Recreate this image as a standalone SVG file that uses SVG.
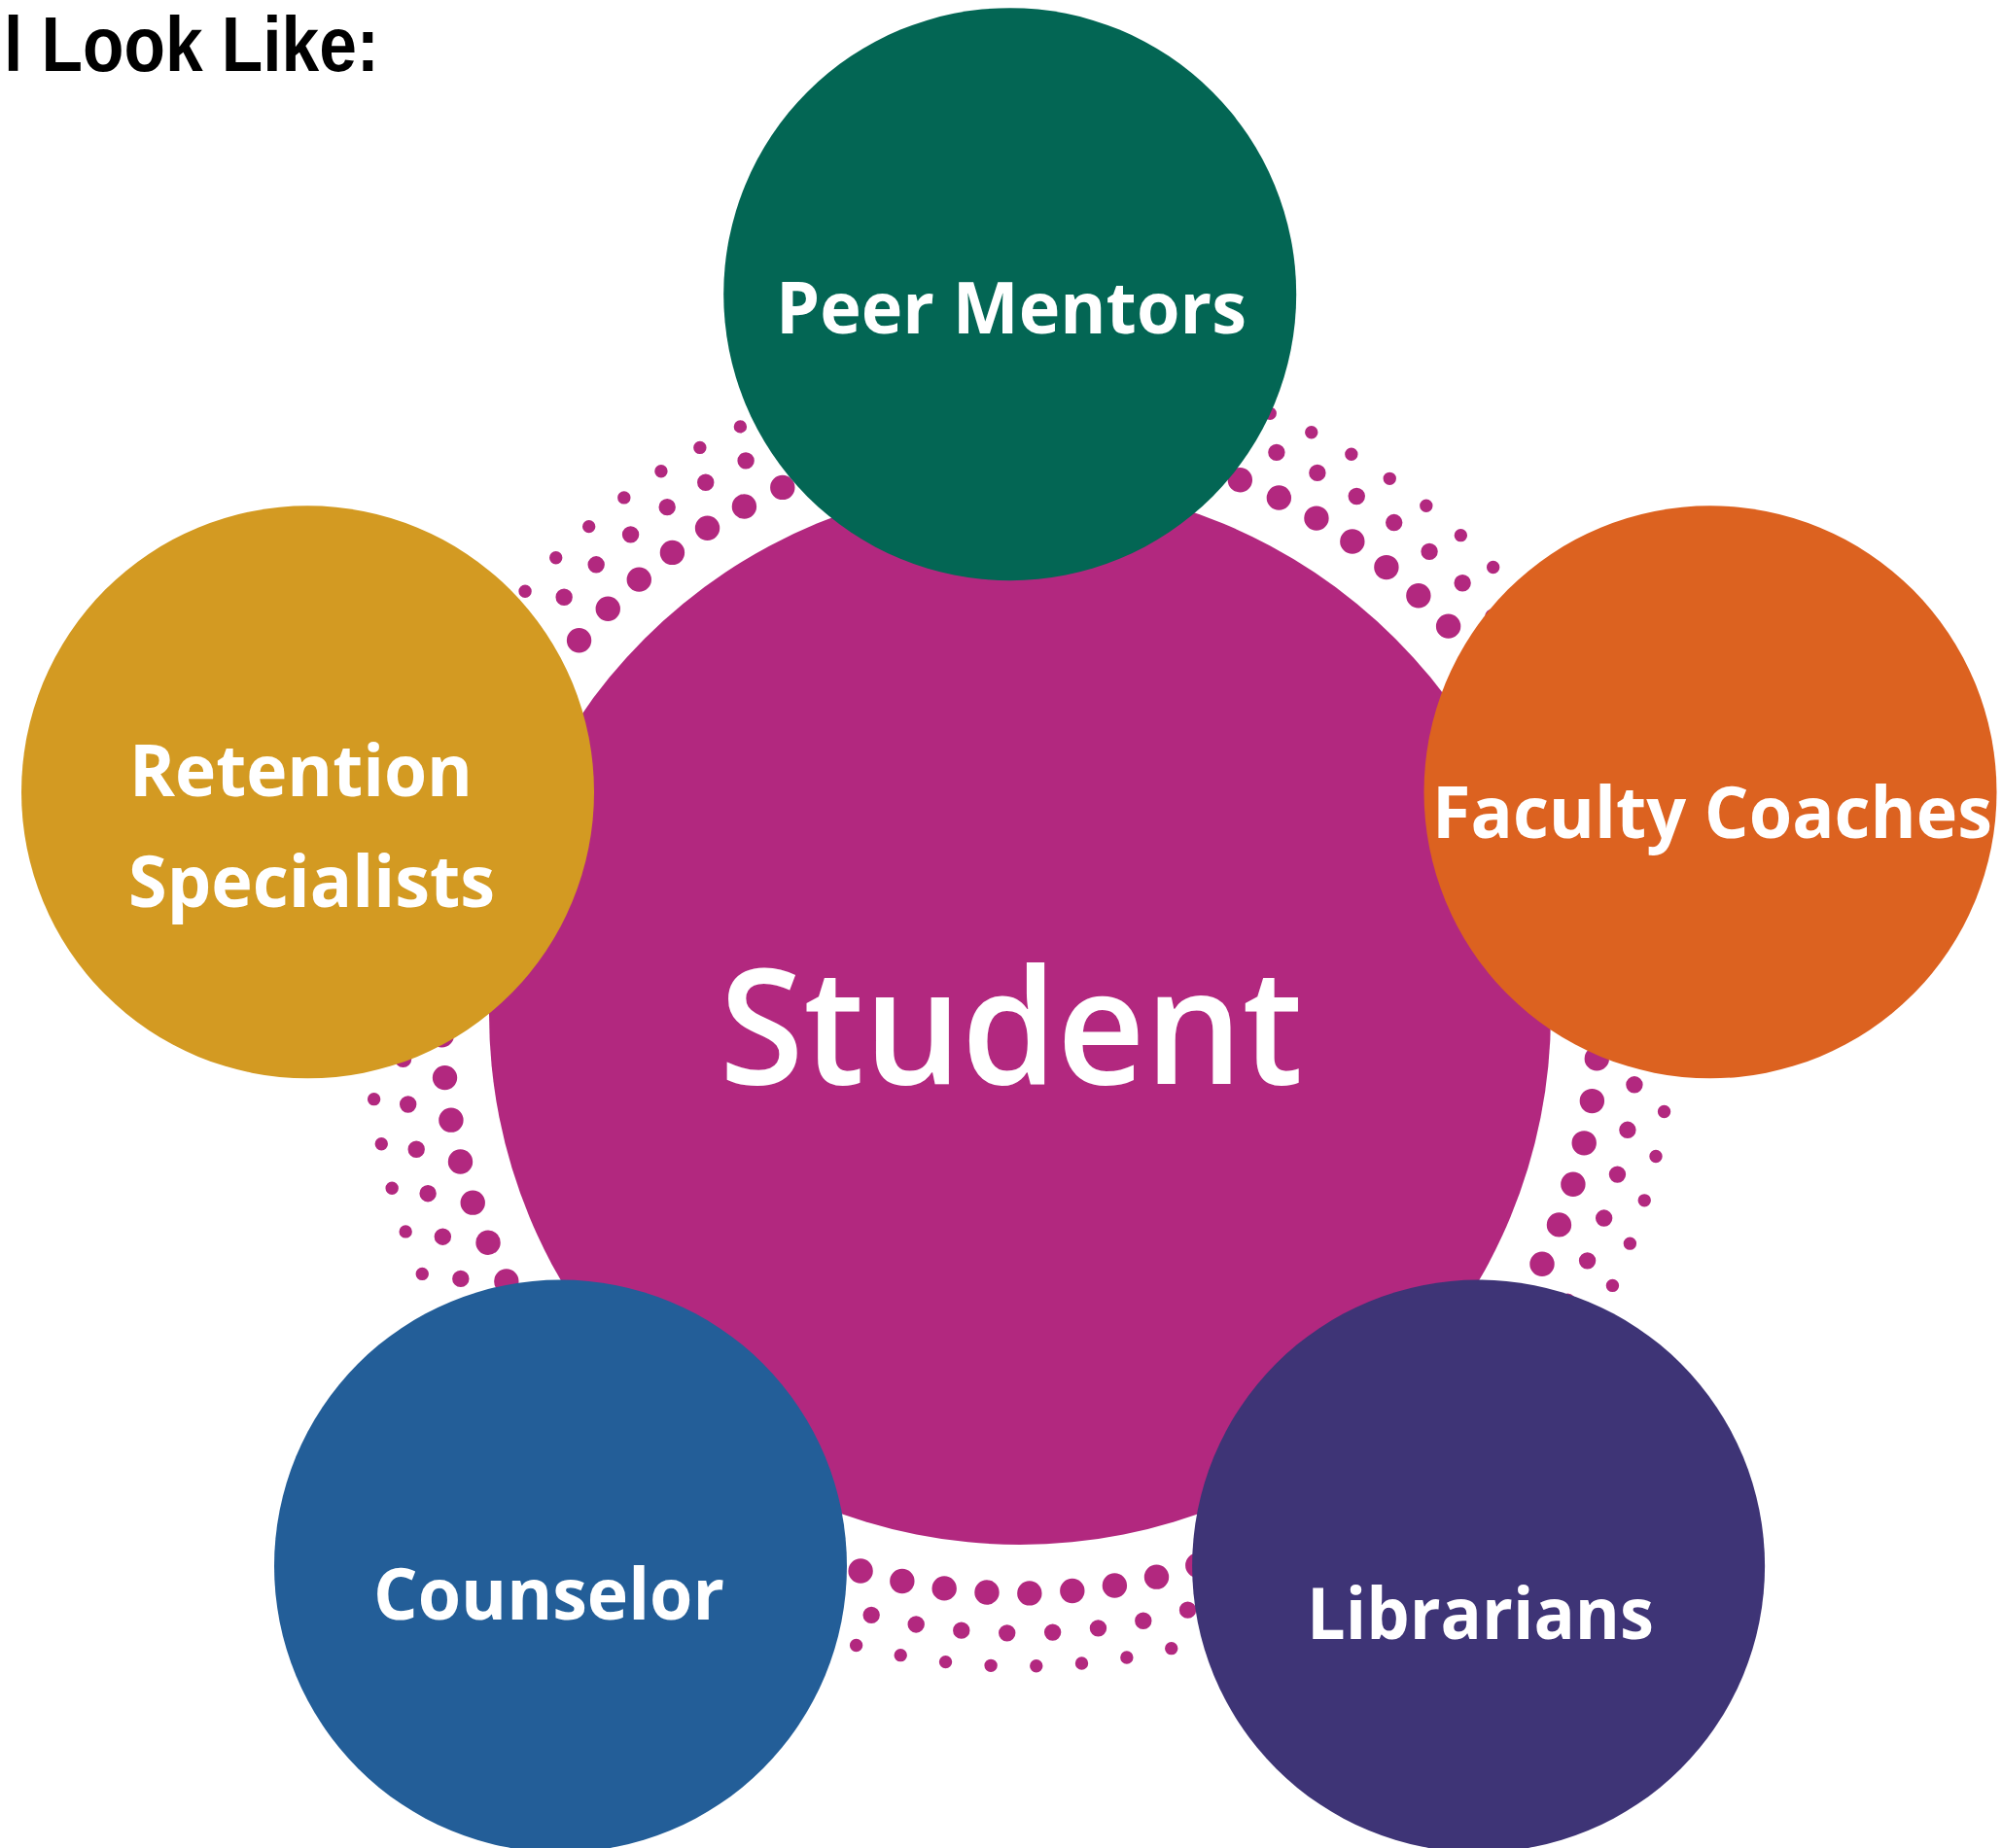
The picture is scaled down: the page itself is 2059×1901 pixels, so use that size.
<svg xmlns="http://www.w3.org/2000/svg" width="2059" height="1901" viewBox="0 0 2059 1901">
  <style>
    .lbl { font-family: "Open Sans", "Noto Sans", "Liberation Sans", sans-serif; font-weight: 700; font-size: 73px; fill: #ffffff; }
    .ring { fill: none; stroke: #B2287F; stroke-linecap: round; }
  </style>
  <rect x="0" y="0" width="2059" height="1901" fill="#ffffff"/>
  <text x="4" y="73" font-family="Liberation Sans, Arial, sans-serif" font-weight="700" font-size="79" fill="#000000" textLength="386" lengthAdjust="spacingAndGlyphs">l Look Like:</text>

  <g id="student">
    <circle cx="1049" cy="1043" r="546" fill="#B2287F"/>
    <text x="740" y="1115" font-family="Open Sans, Noto Sans, Liberation Sans, sans-serif" font-weight="600" font-size="165" fill="#ffffff" textLength="600" lengthAdjust="spacingAndGlyphs">Student</text>
  </g>

  <g id="dot-rings">
    <circle class="ring" cx="1049" cy="1044" r="595" stroke-width="25.4" stroke-dasharray="0 43.9823" stroke-dashoffset="-1"/>
    <circle class="ring" cx="1049" cy="1044" r="636" stroke-width="17.4" stroke-dasharray="0 47.0130" stroke-dashoffset="-24.98"/>
    <circle class="ring" cx="1049" cy="1044" r="670" stroke-width="13.4" stroke-dasharray="0 46.7748" stroke-dashoffset="-6.43"/>
  </g>

  <g id="peer-mentors">
    <circle cx="1038.7" cy="302.7" r="294.5" fill="#036654"/>
    <text class="lbl" x="798" y="343" textLength="484" lengthAdjust="spacingAndGlyphs">Peer Mentors</text>
  </g>

  <g id="retention-specialists">
    <circle cx="316.5" cy="814.8" r="294.5" fill="#D39A22"/>
    <text class="lbl" x="133" y="819" textLength="353" lengthAdjust="spacingAndGlyphs">Retention</text>
    <text class="lbl" x="132" y="933" textLength="377" lengthAdjust="spacingAndGlyphs">Specialists</text>
  </g>

  <g id="faculty-coaches">
    <circle cx="1759" cy="814.8" r="294.5" fill="#DC6220"/>
    <text class="lbl" x="1473" y="862" textLength="576" lengthAdjust="spacingAndGlyphs">Faculty Coaches</text>
  </g>

  <g id="counselor">
    <circle cx="576.5" cy="1611" r="294.5" fill="#235E98"/>
    <text class="lbl" x="384" y="1666" textLength="361" lengthAdjust="spacingAndGlyphs">Counselor</text>
  </g>

  <g id="librarians">
    <circle cx="1520.6" cy="1611" r="294.5" fill="#3E3476"/>
    <text class="lbl" x="1344" y="1686" textLength="357" lengthAdjust="spacingAndGlyphs">Librarians</text>
  </g>
</svg>
